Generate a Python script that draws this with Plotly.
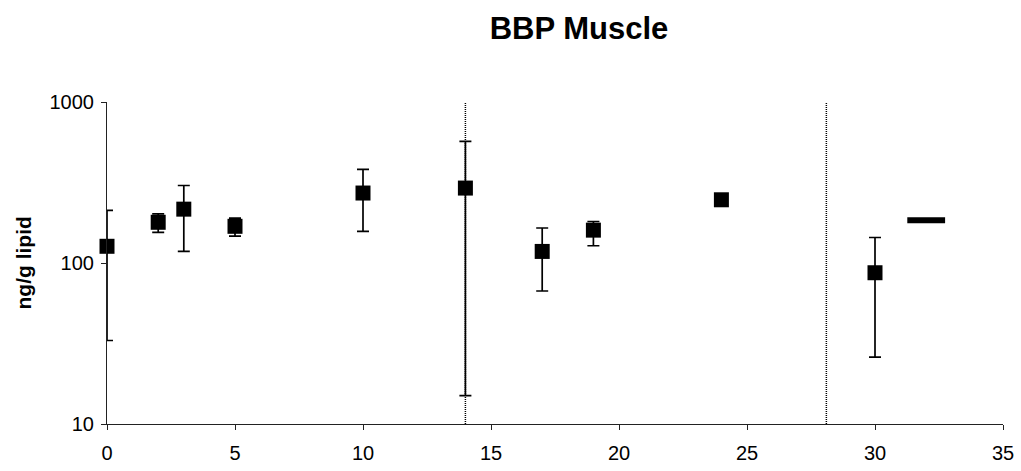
import plotly.graph_objects as go

# Sampling day vs. BBP concentration in muscle (ng/g lipid)
days = [0, 2, 3, 5, 10, 14, 17, 19, 24, 30]
bbp = [127, 179, 216, 169, 272, 292, 118, 160, 247, 87]
err_plus = [85, 23, 87, 21, 110, 277, 47, 21, 0, 57]
err_minus = [94, 24, 98, 22, 115, 277, 51, 32, 0, 61]

# Separate single reading shown as a thick dash
dash_day = [32]
dash_val = [184]

# Phase boundaries (days)
boundaries = [14, 28.1]

x_ticks = [0, 5, 10, 15, 20, 25, 30, 35]
y_ticks = [10, 100, 1000]
y_tick_text = ["10", "100", "1000"]

L, R, T, B = 107, 18, 102, 47
W, H = 1021, 471
plot_w = W - L - R

fig = go.Figure()

fig.add_trace(go.Scatter(
    x=days, y=bbp, mode="markers", cliponaxis=False,
    marker=dict(symbol="square", size=15, color="black"),
    error_y=dict(type="data", symmetric=False, array=err_plus, arrayminus=err_minus,
                 color="black", thickness=1.7, width=6),
    showlegend=False,
))

fig.add_trace(go.Scatter(
    x=dash_day, y=dash_val, mode="markers", cliponaxis=False,
    marker=dict(symbol="line-ew", size=27, line=dict(color="black", width=6)),
    showlegend=False,
))

for b in boundaries:
    fig.add_shape(type="line", x0=b, x1=b, yref="paper", y0=0, y1=1,
                  line=dict(color="black", width=1.5, dash="1px,1px"), layer="below")

# Rotated y-axis caption
fig.add_annotation(text="<b>ng/g lipid</b>", textangle=-90, showarrow=False,
                   xref="paper", yref="paper", x=(22.5 - L) / plot_w, y=0.5,
                   xanchor="center", yanchor="middle", font=dict(size=21))

fig.update_layout(
    width=W, height=H,
    margin=dict(l=L, r=R, t=T, b=B, autoexpand=False),
    paper_bgcolor="white", plot_bgcolor="white",
    font=dict(family="Liberation Sans, Arial, sans-serif", color="black", size=20),
    title=dict(text="<b>BBP Muscle</b>", x=579 / W, xanchor="center",
               y=1 - 28 / H, yanchor="middle", font=dict(size=31)),
    xaxis=dict(range=[0, 35], tickvals=x_ticks, ticks="outside", ticklen=5,
               tickcolor="#222", showline=True, linecolor="#222", linewidth=1.2,
               showgrid=False, zeroline=False, tickfont=dict(size=20),
               ticklabelstandoff=6, automargin=False),
    yaxis=dict(type="log", range=[1, 3], tickvals=y_ticks, ticktext=y_tick_text,
               ticks="outside", ticklen=5, tickcolor="#222", showline=True,
               linecolor="#222", linewidth=1.2, showgrid=False, zeroline=False,
               tickfont=dict(size=20), ticklabelstandoff=3, automargin=False),
)

fig.write_html("out.html")
